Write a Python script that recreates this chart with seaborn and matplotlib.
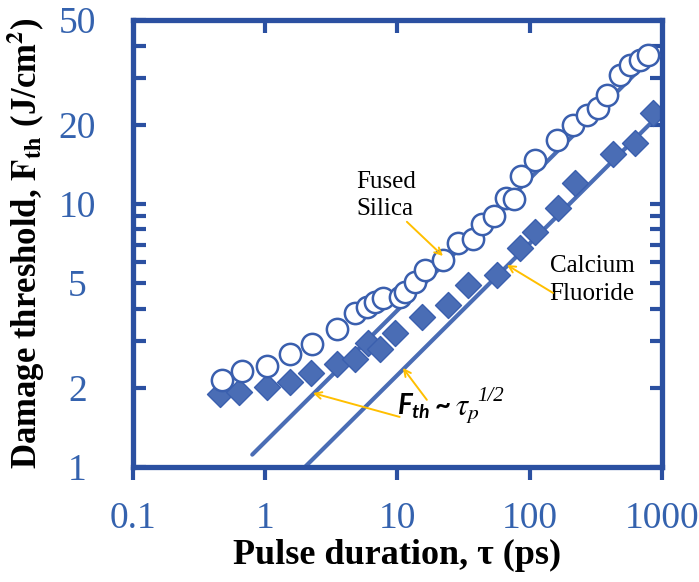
import numpy as np
import pandas as pd
import matplotlib
matplotlib.use("Agg")
import matplotlib.pyplot as plt
import seaborn as sns
from matplotlib.ticker import LogLocator, FixedLocator, NullFormatter, NullLocator

# --- data ---
silica_tau = [0.47, 0.67, 1.03, 1.54, 2.26, 3.49, 4.77, 5.88, 6.76, 7.77, 10.4, 11.4,
              13.6, 16.1, 22.1, 28.7, 37.2, 43.5, 53.7, 66.1, 76.0, 85.9, 110, 161,
              212, 271, 328, 384, 481, 573, 682, 783]
silica_fth = [2.14, 2.32, 2.42, 2.69, 2.94, 3.35, 3.85, 4.06, 4.24, 4.39, 4.43, 4.63,
              5.05, 5.61, 6.12, 7.11, 7.36, 8.39, 9.0, 10.5, 10.4, 12.8, 14.7, 17.5,
              20.0, 21.8, 23.2, 26.0, 30.9, 33.8, 35.3, 36.9]

caf2_tau = [0.455, 0.634, 1.03, 1.54, 2.22, 3.49, 4.77, 5.98, 7.38, 9.57, 15.3, 24.1,
            34.1, 56.5, 84.4, 110, 164, 220, 426, 625, 855]
caf2_fth = [1.90, 1.93, 2.01, 2.10, 2.28, 2.46, 2.57, 2.96, 2.81, 3.23, 3.72, 4.13,
            4.92, 5.37, 6.80, 7.83, 9.66, 12.0, 15.5, 17.1, 22.2]

# square-root scaling guides  F = A * tau^(1/2)
fit_tau_silica = [0.8, 900]
fit_tau_caf2 = [2.0, 900]
fit_coef_silica = 1.246
fit_coef_caf2 = 0.707

x_ticks = [0.1, 1, 10, 100, 1000]
x_ticklabels = ["0.1", "1", "10", "100", "1000"]
y_ticks = [1, 2, 5, 10, 20, 50]
y_ticklabels = ["1", "2", "5", "10", "20", "50"]

spine_blue = "#2B50A1"
label_blue = "#3462AE"
marker_blue = "#4A6DB5"
edge_blue = "#3A5FAE"
arrow_orange = "#FFBF00"

sns.set_theme(style="white")
plt.rcParams["font.family"] = ["Liberation Serif", "DejaVu Serif"]
plt.rcParams["mathtext.it"] = "Lato:italic:bold"
plt.rcParams["mathtext.rm"] = "Lato:bold"

silica = pd.DataFrame({"tau": silica_tau, "fth": silica_fth})
caf2 = pd.DataFrame({"tau": caf2_tau, "fth": caf2_fth})
fits = pd.DataFrame({
    "tau": fit_tau_silica + fit_tau_caf2,
    "fth": [fit_coef_silica * np.sqrt(t) for t in fit_tau_silica]
           + [fit_coef_caf2 * np.sqrt(t) for t in fit_tau_caf2],
    "guide": ["silica"] * 2 + ["caf2"] * 2,
})

fig = plt.figure(figsize=(6.99, 5.82), dpi=100)
ax = fig.add_axes([0.190, 0.1976, 0.757, 0.768])
ax.set_xscale("log")
ax.set_yscale("log")

sns.lineplot(data=fits, x="tau", y="fth", units="guide", estimator=None,
             color=marker_blue, lw=3.0, ax=ax, legend=False, zorder=1)
sns.scatterplot(data=silica, x="tau", y="fth", marker="o", s=235,
                facecolor="white", edgecolor=edge_blue, linewidth=1.8,
                ax=ax, zorder=3)
sns.scatterplot(data=caf2, x="tau", y="fth", marker="D", s=175,
                color=marker_blue, edgecolor=edge_blue, linewidth=1.0,
                ax=ax, zorder=2)

ax.set_xlim(0.1, 1000)
ax.set_ylim(1, 50)

# ticks
ax.xaxis.set_major_locator(FixedLocator(x_ticks))
ax.xaxis.set_minor_locator(NullLocator())
ax.set_xticklabels(x_ticklabels)
ax.yaxis.set_major_locator(FixedLocator(y_ticks))
ax.set_yticklabels(y_ticklabels)
ax.yaxis.set_minor_locator(LogLocator(base=10, subs=(1, 2, 3, 4, 5, 6, 7, 8, 9)))
ax.yaxis.set_minor_formatter(NullFormatter())

ax.tick_params(axis="x", which="major", direction="out", length=9, width=3,
               color=spine_blue, labelcolor=label_blue, labelsize=27, pad=16,
               bottom=True, top=False)
ax.tick_params(axis="y", which="both", direction="in", length=9, width=3,
               color=spine_blue, labelcolor=label_blue, labelsize=27, pad=40,
               left=True, right=True)
for lab in ax.get_yticklabels():
    lab.set_horizontalalignment("center")
# inward ticks along the top edge
for t in x_ticks[1:-1]:
    ax.plot([t, t], [50 / 1.12, 50], color=spine_blue, lw=3, solid_capstyle="butt",
            clip_on=False, zorder=4)

for s in ax.spines.values():
    s.set_color(spine_blue)
    s.set_linewidth(3.8)
    s.set_visible(True)

ax.set_xlabel("Pulse duration, \u03c4 (ps)", fontsize=26, fontweight="bold",
              color="black", labelpad=2)
ax.set_ylabel(r"Damage threshold, $\mathbf{F_{th}}$ (J/cm$^{\mathbf{2}}$)",
              fontsize=25, fontweight="bold", color="black", labelpad=8,
              math_fontfamily="stix")
ax.grid(False)

# annotations
arrow_kw = dict(arrowstyle="->", color=arrow_orange, lw=1.4,
                mutation_scale=12, shrinkA=0, shrinkB=0)
ax.text(4.9, 10.8, "Fused\nSilica", fontsize=18, color="black", ha="left",
        va="center", linespacing=1.3)
ax.annotate("", xy=(22.1, 6.34), xytext=(11.8, 8.55), arrowprops=arrow_kw)
ax.text(296, 5.14, "Calcium\nFluoride", fontsize=18, color="black", ha="center",
        va="center", linespacing=1.3)
ax.annotate("", xy=(67.3, 5.86), xytext=(150, 4.59), arrowprops=arrow_kw)
ax.annotate("", xy=(2.30, 1.91), xytext=(10.4, 1.55), arrowprops=arrow_kw)
ax.annotate("", xy=(11.0, 2.38), xytext=(16.7, 1.80), arrowprops=arrow_kw)

# F_th ~ tau_p^(1/2)
ax.text(9.9, 1.58, r"$F_{th}$", fontsize=20, color="black", ha="left",
        va="baseline", math_fontfamily="custom")
ax.text(19.0, 1.60, "~", fontsize=20, color="black", ha="left",
        va="baseline", fontfamily="Lato", fontweight="bold")
ax.text(27.5, 1.58, r"$\tau_p$", fontsize=22, color="black",
        ha="left", va="baseline", math_fontfamily="stix")
ax.annotate("1/2", xy=(27.5, 1.58), xytext=(16, 10), textcoords="offset points",
            fontsize=15, fontstyle="italic", color="black", ha="left",
            va="baseline")

fig.savefig("out.png", dpi=100)
